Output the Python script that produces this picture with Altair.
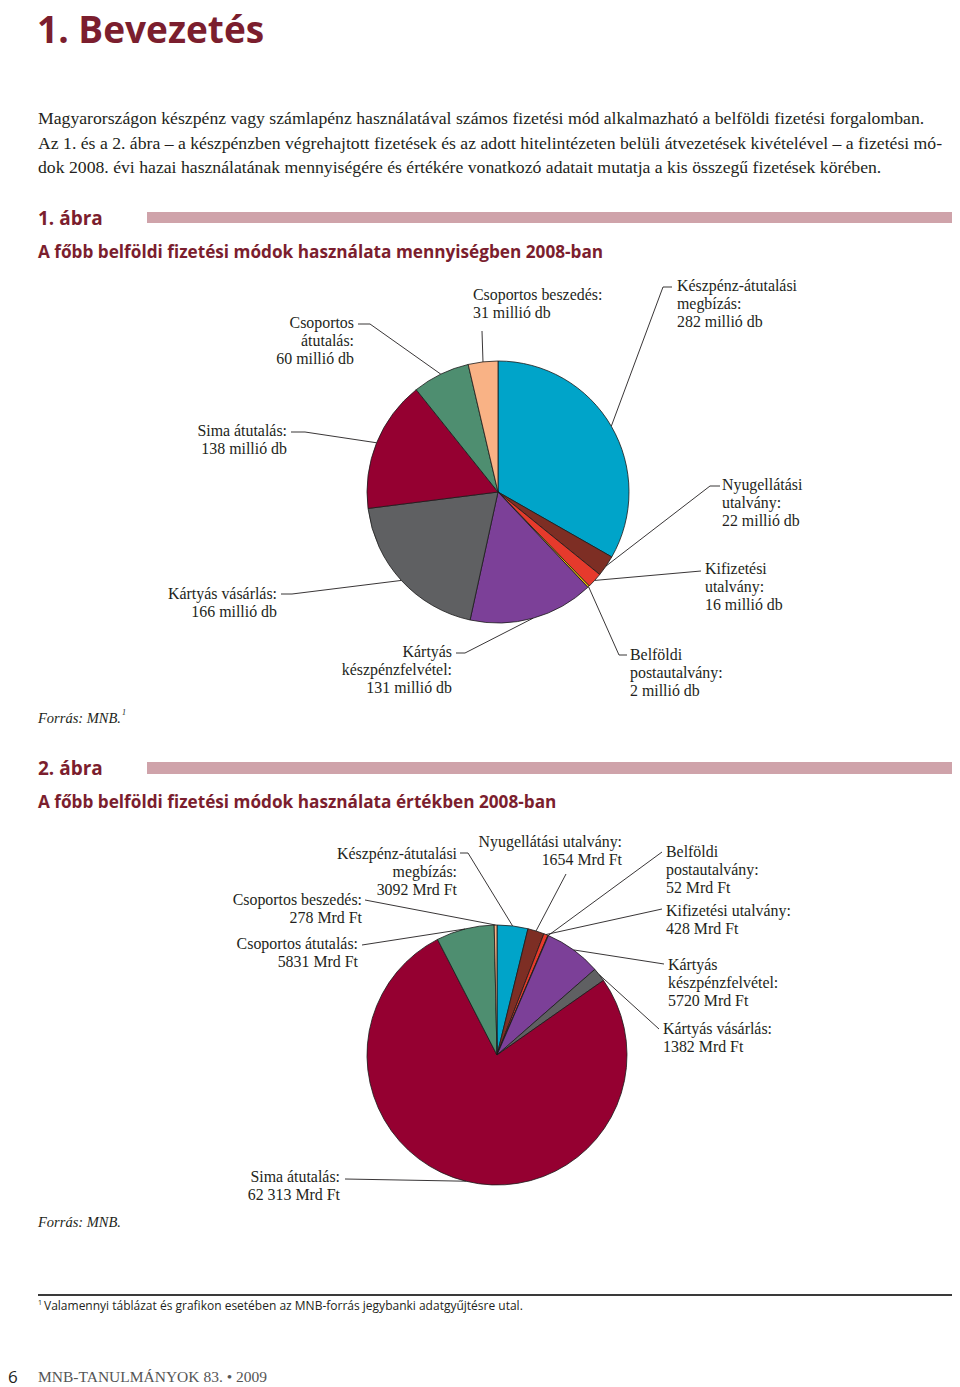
import altair as alt
import pandas as pd

# ---------------- data ----------------
categories = ["Készpénz-átutalási megbízás", "Nyugellátási utalvány", "Kifizetési utalvány",
              "Belföldi postautalvány", "Kártyás készpénzfelvétel", "Kártyás vásárlás",
              "Sima átutalás", "Csoportos átutalás", "Csoportos beszedés"]
volume_mdb = [282, 22, 16, 2, 131, 166, 138, 60, 31]          # millió db
value_mrdft = [3092, 1654, 428, 52, 5720, 1382, 62313, 5831, 278]  # Mrd Ft
slice_colors = ["#00A4C9", "#7D2E24", "#E63A2C", "#F3C300", "#7C4098",
                "#5F6062", "#950031", "#4E8E70", "#F9B285"]

labels1 = ["Készpénz-átutalási\nmegbízás:\n282 millió db",
           "Nyugellátási\nutalvány:\n22 millió db",
           "Kifizetési\nutalvány:\n16 millió db",
           "Belföldi\npostautalvány:\n2 millió db",
           "Kártyás\nkészpénzfelvétel:\n131 millió db",
           "Kártyás vásárlás:\n166 millió db",
           "Sima átutalás:\n138 millió db",
           "Csoportos\nátutalás:\n60 millió db",
           "Csoportos beszedés:\n31 millió db"]
labels2 = ["Készpénz-átutalási\nmegbízás:\n3092 Mrd Ft",
           "Nyugellátási utalvány:\n1654 Mrd Ft",
           "Kifizetési utalvány:\n428 Mrd Ft",
           "Belföldi\npostautalvány:\n52 Mrd Ft",
           "Kártyás\nkészpénzfelvétel:\n5720 Mrd Ft",
           "Kártyás vásárlás:\n1382 Mrd Ft",
           "Sima átutalás:\n62 313 Mrd Ft",
           "Csoportos átutalás:\n5831 Mrd Ft",
           "Csoportos beszedés:\n278 Mrd Ft"]

# ---------------- layout (page px) ----------------
W, H = 944, 1379
OFF = 8
def T(v):
    return v - OFF

RED = "#7B1E2E"
INK = "#231F20"
SERIF = "Liberation Serif"
SANS = "Open Sans"
LABEL_SIZE = 15.9

# label layout: (align, text x, first baseline y, leader start x, y, elbow x, y)
layout1 = [("left", 677, 291, 672, 287, 663, 287),
           ("left", 722, 490, 720, 486, 710, 486),
           ("left", 705, 574, 701, 571, 701, 571),
           ("left", 630, 660, 627, 655, 619, 655),
           ("right", 452, 657, 456, 653, 465, 653),
           ("right", 277, 599, 281, 594, 292, 594),
           ("right", 287, 436, 291, 432, 305, 432),
           ("right", 354, 328, 358, 324, 370, 324),
           ("left", 473, 300, 482, 331, 482, 331)]
layout2 = [("right", 457, 859, 460, 853, 468, 853),
           ("right", 622, 847, 566, 874, 566, 874),
           ("left", 666, 916, 662, 909, 662, 909),
           ("left", 666, 857, 662, 852, 662, 852),
           ("left", 668, 970, 664, 964, 664, 964),
           ("left", 663, 1034, 659, 1029, 659, 1029),
           ("right", 340, 1182, 345, 1179, 345, 1179),
           ("right", 358, 949, 362, 945, 362, 945),
           ("right", 362, 905, 365, 900, 365, 900)]


def pie_frame(values, labels, layout):
    rows = []
    for i, (n, v, lab, lay) in enumerate(zip(categories, values, labels, layout)):
        al, lx, ly, sx, sy, ex, ey = lay
        rows.append(dict(name=n, value=v, idx=i, label=lab, align=al,
                         lx=T(lx), ly=T(ly), sx=T(sx), sy=T(sy), ex=T(ex), ey=T(ey)))
    return pd.DataFrame(rows)


color_scale = alt.Scale(domain=categories, range=slice_colors)


def pie_layers(df, cx, cy, R):
    arcs = alt.Chart(df).mark_arc(outerRadius=R, stroke="#1A1A1A", strokeWidth=0.8).encode(
        theta=alt.Theta("value:Q", stack="normalize"),
        color=alt.Color("name:N", scale=color_scale, legend=None),
        order=alt.Order("idx:Q"),
        x=alt.value(T(cx)), y=alt.value(T(cy)),
    )
    base = alt.Chart(df).transform_window(
        cum="sum(value)", sort=[alt.SortField("idx")], frame=[None, 0]
    ).transform_joinaggregate(total="sum(value)").transform_calculate(
        ang="2*PI*(datum.cum - datum.value/2)/datum.total"
    ).transform_calculate(
        px=f"{T(cx)} + {R}*sin(datum.ang)", py=f"{T(cy)} - {R}*cos(datum.ang)"
    )
    lead = base.mark_rule(color=INK, strokeWidth=0.9).encode(
        x=alt.X("ex:Q", scale=None, axis=None), y=alt.Y("ey:Q", scale=None, axis=None),
        x2="px:Q", y2="py:Q")
    dash = alt.Chart(df).mark_rule(color=INK, strokeWidth=0.9).encode(
        x=alt.X("sx:Q", scale=None, axis=None), y=alt.Y("sy:Q", scale=None, axis=None),
        x2="ex:Q", y2="ey:Q")
    texts = []
    for al in ["left", "right"]:
        texts.append(alt.Chart(df).transform_filter(f"datum.align == '{al}'").mark_text(
            align=al, baseline="alphabetic", font=SERIF, fontSize=LABEL_SIZE, lineHeight=18,
            lineBreak="\n", color=INK).encode(
            x=alt.X("lx:Q", scale=None, axis=None), y=alt.Y("ly:Q", scale=None, axis=None),
            text="label:N"))
    return [arcs, lead, dash] + texts


def txt(s, x, y, size, font=SERIF, color=INK, weight="normal", style="normal", align="left"):
    return alt.Chart(alt.Data(values=[{}])).mark_text(
        align=align, baseline="alphabetic", font=font, fontSize=size,
        fontWeight=weight, fontStyle=style, color=color).encode(
        x=alt.value(T(x)), y=alt.value(T(y)), text=alt.value(s))


def rect(x1, x2, y1, y2, color):
    return alt.Chart(alt.Data(values=[{}])).mark_rect(color=color).encode(
        x=alt.value(T(x1)), x2=alt.value(T(x2)), y=alt.value(T(y1)), y2=alt.value(T(y2)))


layers = []
layers.append(txt("1. Bevezetés", 37, 43, 37, font=SANS, color=RED, weight="bold"))
para = ["Magyarországon készpénz vagy számlapénz használatával számos fizetési mód alkalmazható a belföldi fizetési forgalomban.",
        "Az 1. és a 2. ábra – a készpénzben végrehajtott fizetések és az adott hitelintézeten belüli átvezetések kivételével – a fizetési mó-",
        "dok 2008. évi hazai használatának mennyiségére és értékére vonatkozó adatait mutatja a kis összegű fizetések körében."]
for i, line in enumerate(para):
    layers.append(txt(line, 38, 124 + i * 24.5, 17.7))

layers.append(txt("1. ábra", 38, 225, 19, font=SANS, color=RED, weight="bold"))
layers.append(rect(147, 953, 212, 223, "#CFA3AA"))
layers.append(txt("A főbb belföldi fizetési módok használata mennyiségben 2008-ban", 38, 258, 17.2,
                  font=SANS, color=RED, weight="bold"))
layers.append(txt("Forrás: MNB.", 38, 723, 14.5, style="italic"))
layers.append(txt("1", 122, 715, 8, style="italic"))

layers.append(txt("2. ábra", 38, 775, 19, font=SANS, color=RED, weight="bold"))
layers.append(rect(147, 955, 762, 774, "#CFA3AA"))
layers.append(txt("A főbb belföldi fizetési módok használata értékben 2008-ban", 38, 808, 17.2,
                  font=SANS, color=RED, weight="bold"))
layers.append(txt("Forrás: MNB.", 38, 1227, 14.5, style="italic"))

layers.append(rect(38, 955, 1294, 1296, "#3A3A3A"))
layers.append(txt("1", 38, 1305, 7, font=SANS))
layers.append(txt("Valamennyi táblázat és grafikon esetében az MNB-forrás jegybanki adatgyűjtésre utal.",
                  44, 1310, 12, font=SANS))
layers.append(txt("6", 8, 1383, 17, font=SANS))
layers.append(txt("MNB-TANULMÁNYOK 83. • 2009", 38, 1382, 15.5, color="#555555"))

df1 = pie_frame(volume_mdb, labels1, layout1)
df2 = pie_frame(value_mrdft, labels2, layout2)
layers += pie_layers(df1, 498, 492, 131)
layers += pie_layers(df2, 497, 1055, 130)

chart = alt.layer(*layers).properties(
    width=W, height=H, autosize="none", padding=0
).configure_view(stroke=None)

chart.save("out.html", embed_options={"renderer": "svg", "actions": False})
